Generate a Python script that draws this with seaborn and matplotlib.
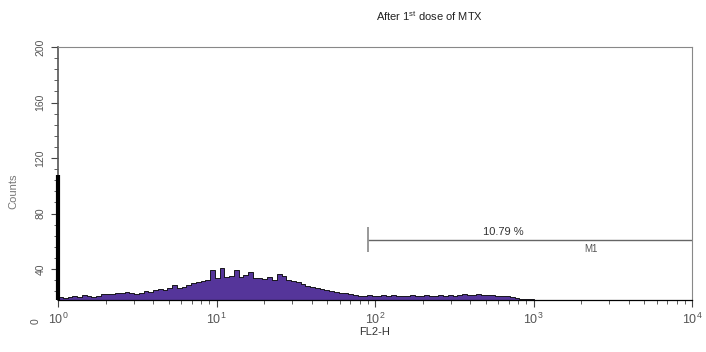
"""
Flow cytometry FL2-H histogram after 1st dose of MTX.
"""

import numpy as np
import matplotlib
matplotlib.use('Agg')
import matplotlib.pyplot as plt
import seaborn as sns
from matplotlib.ticker import MultipleLocator, LogLocator, FixedLocator

# ---- data ----
log_start, log_stop, n_bins = 0.0, 3.0, 100          # FL2-H channels, log10 units
counts = [
    19.8, 19.5, 20.1, 20.5, 19.9, 21.3, 20.6, 20.1, 20.7,
    21.8, 22.3, 21.7, 23.1, 22.4, 23.7, 22.8, 22.2, 22.9, 23.9, 23.2,
    24.8, 25.9, 25.1, 26.5, 28.2, 26.2, 27.1,
    28.8, 30.1, 30.9, 31.7, 32.3, 39.0, 33.3,
    40.5, 34.1, 34.8, 39.2, 34.3, 35.5, 38.0,
    33.9, 33.5, 32.9, 34.2, 32.1, 36.5, 35.1, 32.3, 31.5, 30.7,
    29.3, 28.1, 27.2, 26.5, 25.3, 24.9,
    24.2, 23.5, 22.9, 22.4, 21.7, 21.3,
    20.9, 20.6, 21.1, 20.8, 20.5, 21.0, 20.7, 21.2, 20.8, 20.6, 20.9,
    21.1, 20.7, 20.8, 21.2, 20.9, 20.6, 21.0, 20.8, 21.1, 20.9, 21.5,
    21.8, 21.3, 21.6, 22.1, 21.5, 21.2, 21.3, 20.9, 20.6, 20.4, 20.1,
    18.8, 18.5, 18.3, 18.2,
]
first_channel_count = 108        # events piled on channel 0
y_floor = 17.7                   # visible bottom of the count axis
y_top = 200
y_ticks = [40, 80, 120, 160, 200]
x_ticks = [1, 10, 100, 1000, 10000]

gate_start, gate_stop, gate_level = 90, 10000, 61   # M1 marker
gate_pct = '10.79 %'
gate_name = 'M1'

fill_color = '#55359a'
text_grey = '#555555'

# bin centres in data space
edges = np.linspace(log_start, log_stop, n_bins + 1)
centres = 10 ** ((edges[:-1] + edges[1:]) / 2)

sns.set_style('white')
plt.rcParams['font.family'] = ['Liberation Sans', 'DejaVu Sans']

fig = plt.figure(figsize=(7.06, 3.52), dpi=100)
ax = fig.add_axes([0.0822, 0.1477, 0.8980, 0.7188])

sns.histplot(x=centres, weights=counts, bins=n_bins, binrange=(log_start, log_stop),
             log_scale=True, element='step', fill=True, color=fill_color,
             alpha=1.0, edgecolor='black', linewidth=0.6, ax=ax)

# channel-0 spike along the y axis
ax.vlines(1, y_floor, first_channel_count, color='black', lw=3, clip_on=False, zorder=5)

ax.set_xlim(1, 10000)
ax.set_ylim(y_floor, y_top)
ax.xaxis.set_major_locator(FixedLocator(x_ticks))
ax.xaxis.set_minor_locator(LogLocator(base=10, subs=np.arange(2, 10)))
ax.yaxis.set_major_locator(FixedLocator(y_ticks))
ax.yaxis.set_minor_locator(MultipleLocator(8))

ax.tick_params(axis='both', which='major', direction='out', length=5, width=0.8,
               color='#444444', labelcolor=text_grey, labelsize=9, bottom=True, left=True)
ax.tick_params(axis='both', which='minor', direction='out', length=3, width=0.6,
               color='#444444', bottom=True, left=True)
ax.tick_params(axis='y', labelsize=7.5, pad=4)
plt.setp(ax.get_yticklabels(), rotation=90, va='center')
ax.text(-0.036, -0.085, '0', transform=ax.transAxes, rotation=90, ha='center', va='center',
        fontsize=7.5, color=text_grey)

for side in ['top', 'right']:
    ax.spines[side].set_color('#888888')
    ax.spines[side].set_linewidth(0.8)
ax.spines['left'].set_color('#555555')
ax.spines['left'].set_linewidth(1.2)
ax.spines['bottom'].set_color('black')
ax.spines['bottom'].set_linewidth(0.9)

ax.set_xlabel('FL2-H', fontsize=8, color='#333333', labelpad=0)
ax.set_ylabel('Counts', fontsize=8, color='#777777', labelpad=4)
ax.yaxis.set_label_coords(-0.062, 0.43)

# M1 gate marker
ax.hlines(gate_level, gate_start, gate_stop, color='#666666', lw=1)
ax.vlines(gate_start, gate_level - 9, gate_level + 9, color='#888888', lw=1.2)
ax.text(np.sqrt(gate_start * gate_stop) * 0.68, gate_level + 2, gate_pct,
        ha='center', va='bottom', fontsize=8, color='#333333')
ax.text(np.sqrt(gate_start * gate_stop) * 2.42, gate_level - 3, gate_name,
        ha='center', va='top', fontsize=7, color='#555555')

fig.text(0.609, 0.955, r'After 1$^{\mathregular{st}}$ dose of MTX', ha='center', va='center',
         fontsize=8, color='#222222')

fig.savefig('out.png', dpi=100, facecolor='white')
